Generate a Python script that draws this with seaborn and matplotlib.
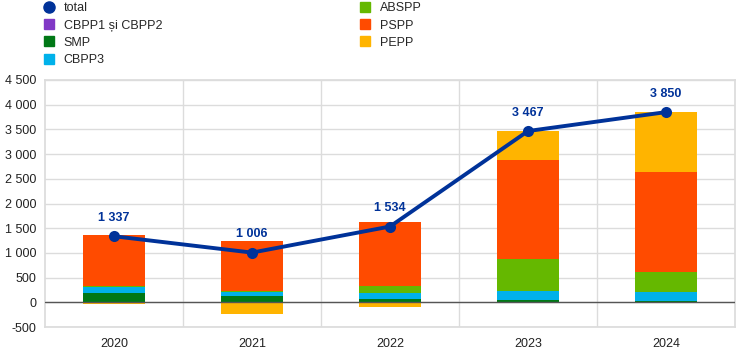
import seaborn as sns
import pandas as pd
import matplotlib.pyplot as plt
from matplotlib.lines import Line2D
from matplotlib.ticker import MultipleLocator, FuncFormatter
import numpy as np

sns.set_theme(style="white")
plt.rcParams['font.family'] = ['Liberation Sans', 'DejaVu Sans']

# Data (EUR billions).
years = ["2020", "2021", "2022", "2023", "2024"]
cbpp12 = [0, 0, 0, 0, 0]
smp = [195, 118, 72, 52, 26]
cbpp3 = [115, 92, 125, 186, 174]
abspp = [22, 15, 125, 630, 415]
pspp = [1035, 1021, 1299, 2014, 2025]
pepp = [-30, -240, -87, 585, 1210]
total = [1337, 1006, 1534, 3467, 3850]

series_names = ["CBPP1 și CBPP2", "SMP", "CBPP3", "ABSPP", "PSPP", "PEPP"]
series_values = [cbpp12, smp, cbpp3, abspp, pspp, pepp]
colors = ["#8139c6", "#007816", "#00b1ea", "#65b800", "#ff4b00", "#ffb400"]
line_color = "#003299"

fig = plt.figure(figsize=(7.44, 3.61), dpi=100)
ax = fig.add_axes([45 / 744, 34 / 361, 690 / 744, 247 / 361])

# Stacked bars: positives go up from zero, negatives go down.
pos_base = np.zeros(len(years))
neg_base = np.zeros(len(years))
for name, vals, c in zip(series_names, series_values, colors):
    vals = np.array(vals, dtype=float)
    bottom = np.where(vals >= 0, pos_base, neg_base)
    ax.bar(years, vals, bottom=bottom, width=0.45, color=c, linewidth=0, zorder=2)
    pos_base += np.where(vals >= 0, vals, 0)
    neg_base += np.where(vals < 0, vals, 0)

df = pd.DataFrame({"year": years, "total": total})
sns.lineplot(data=df, x="year", y="total", ax=ax, color=line_color, linewidth=2.8,
             marker="o", markersize=8, markeredgewidth=0, zorder=4)

for i, v in enumerate(total):
    ax.annotate(f"{v:,}".replace(",", " "), (i, v), xytext=(0, 9), textcoords="offset points",
                ha="center", va="bottom", color=line_color, fontsize=9, fontweight="bold")

ax.axhline(0, color="#555555", linewidth=1, zorder=3)
ax.set_ylim(-500, 4500)
ax.set_xlim(-0.5, len(years) - 0.5)
ax.yaxis.set_major_locator(MultipleLocator(500))
ax.yaxis.set_major_formatter(FuncFormatter(lambda v, p: f"{int(v):,}".replace(",", " ")))
ax.grid(axis="y", color="#dcdcdc", linewidth=1, zorder=0)
for b in np.arange(0.5, len(years) - 0.5, 1):
    ax.axvline(b, color="#dcdcdc", linewidth=1, zorder=0)
for s in ax.spines.values():
    s.set_color("#dcdcdc")
ax.set_xlabel("")
ax.set_ylabel("")
ax.tick_params(axis="both", length=0, labelsize=9, colors="#222222")
ax.tick_params(axis="x", pad=8)
ax.tick_params(axis="y", pad=6)

handles = [Line2D([], [], marker="o", linestyle="none", color=line_color, markersize=8, label="total")]
for name, c in zip(series_names, colors):
    handles.append(Line2D([], [], marker="s", linestyle="none", color=c, markersize=7, label=name))
fig.legend(handles=handles, ncol=2, loc="upper left", bbox_to_anchor=(40 / 744, 0.997),
           frameon=False, fontsize=9, handletextpad=0.6, labelspacing=0.42,
           columnspacing=15.6, handlelength=1.2, borderaxespad=0.0, borderpad=0.1)

plt.savefig("out.png", dpi=100)
